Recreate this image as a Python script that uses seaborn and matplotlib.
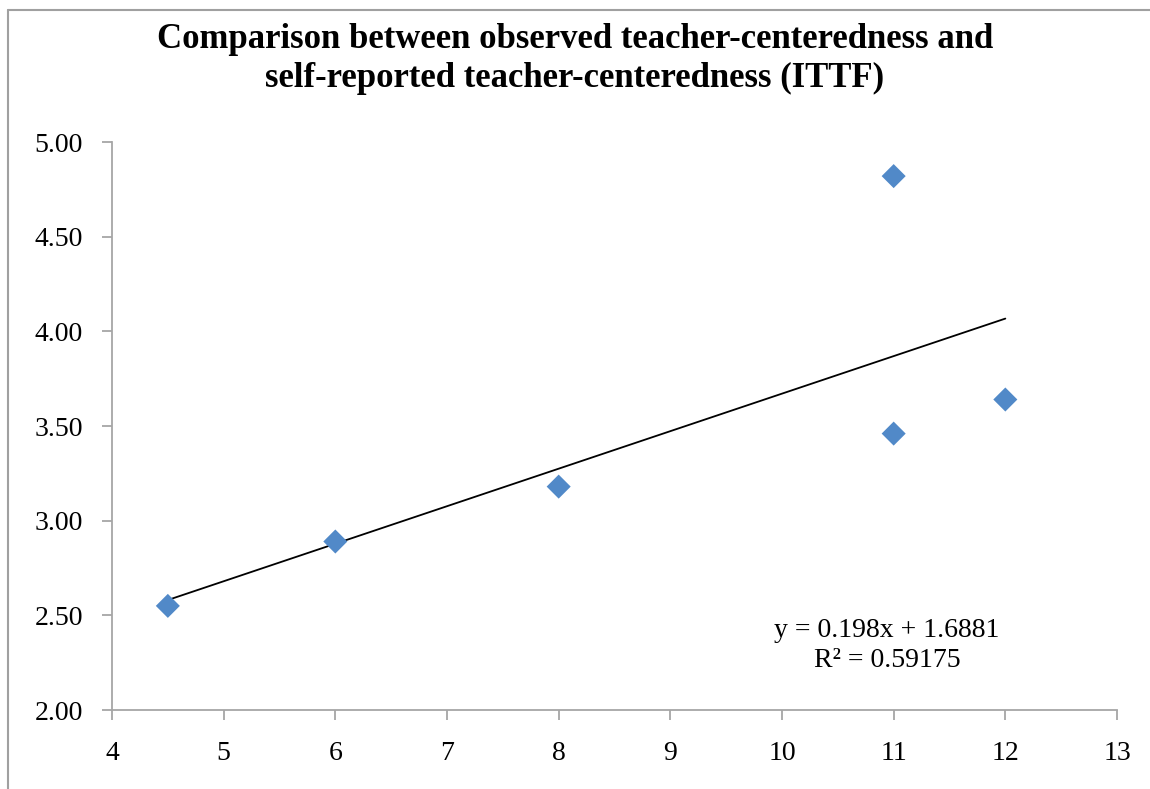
import pandas as pd
import seaborn as sns
import matplotlib.pyplot as plt
from matplotlib.lines import Line2D
from matplotlib.ticker import FormatStrFormatter

# observed vs self-reported teacher-centeredness
observed = [4.5, 6, 8, 11, 11, 12]
self_reported = [2.55, 2.89, 3.18, 4.82, 3.46, 3.64]
x_ticks = [4, 5, 6, 7, 8, 9, 10, 11, 12, 13]
y_ticks = [2.0, 2.5, 3.0, 3.5, 4.0, 4.5, 5.0]

title = ("Comparison between observed teacher-centeredness and\n"
         "self-reported teacher-centeredness (ITTF)")
equation = "y = 0.198x + 1.6881\nR² = 0.59175"


def main():
    sns.set_theme(style="white")
    plt.rcParams["font.family"] = ["Liberation Serif", "DejaVu Serif"]
    plt.rcParams["text.color"] = "black"

    df = pd.DataFrame({"observed": observed, "self_reported": self_reported})

    fig = plt.figure(figsize=(11.5, 7.89), dpi=100)
    ax = fig.add_axes([0.0974, 0.1001, 0.8739, 0.7199])

    sns.regplot(
        x="observed", y="self_reported", data=df, ax=ax,
        ci=None, truncate=True, marker="D",
        scatter_kws=dict(s=150, color="#5189C8", edgecolor="none",
                         alpha=1, zorder=3),
        line_kws=dict(color="black", linewidth=1.3, zorder=2),
    )

    ax.set_xlim(4, 13)
    ax.set_ylim(2, 5)
    ax.set_xticks(x_ticks)
    ax.set_yticks(y_ticks)
    ax.yaxis.set_major_formatter(FormatStrFormatter("%.2f"))
    ax.set_xlabel("")
    ax.set_ylabel("")

    for side in ["top", "right"]:
        ax.spines[side].set_visible(False)
    for side in ["left", "bottom"]:
        ax.spines[side].set_color("#A6A6A6")
        ax.spines[side].set_linewidth(1.3)
    ax.tick_params(axis="both", direction="out", length=7, width=1.3,
                   color="#A6A6A6", labelsize=20, labelcolor="black",
                   bottom=True, left=True)
    ax.tick_params(axis="x", pad=15)
    ax.tick_params(axis="y", pad=14)

    ax.text(0.771, 0.114, equation, transform=ax.transAxes,
            ha="center", va="center", fontsize=20, linespacing=1.25)

    fig.text(0.5, 0.925, title, ha="center", va="center",
             fontsize=25, fontweight="bold", linespacing=1.25)

    # outer chart border (left and top visible)
    fig.add_artist(Line2D([0.007, 0.007], [0, 0.987], color="#A0A0A0",
                          linewidth=1.5, transform=fig.transFigure))
    fig.add_artist(Line2D([0.007, 1], [0.987, 0.987], color="#A0A0A0",
                          linewidth=1.5, transform=fig.transFigure))

    fig.savefig("out.png", dpi=100)
    plt.close(fig)


if __name__ == "__main__":
    main()
